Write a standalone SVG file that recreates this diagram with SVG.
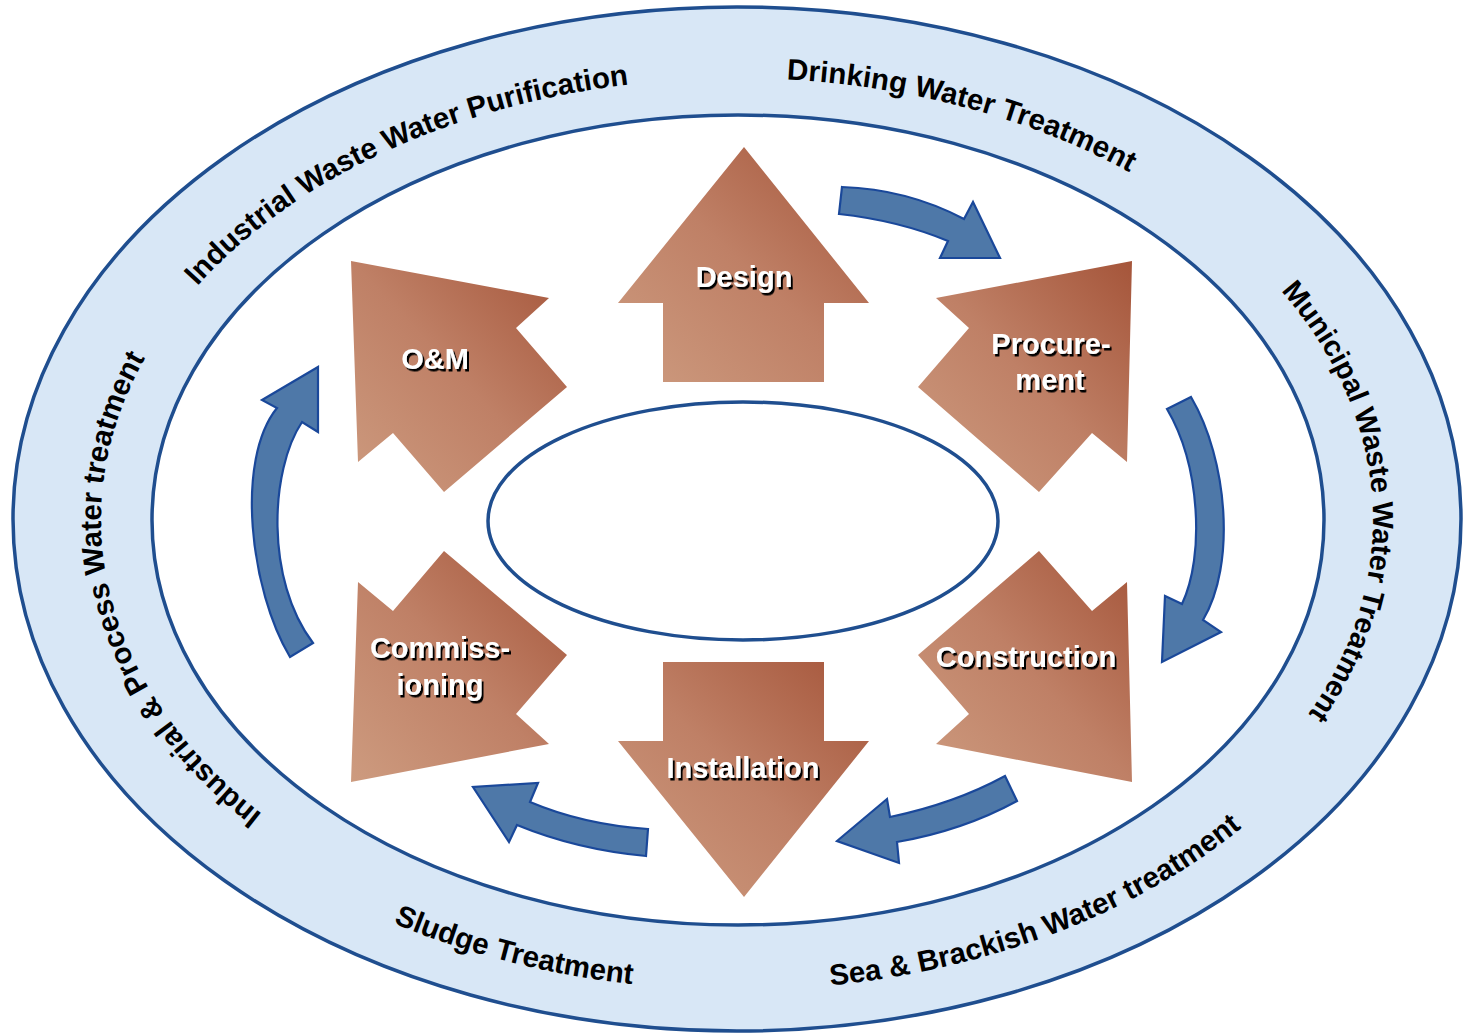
<svg xmlns="http://www.w3.org/2000/svg" width="1467" height="1034" viewBox="0 0 1467 1034">
<style>
.ring{fill:#D8E7F6;stroke:#1F4E8F;stroke-width:3.5}
.white{fill:#FFFFFF;stroke:#1F4E8F;stroke-width:3.5}
.brown{fill:url(#brownGrad)}
.blue{fill:#4E78A8;stroke:#1A489A;stroke-width:2.2;stroke-linejoin:miter}
.lbl{font-family:"Liberation Sans",Arial,sans-serif;font-weight:bold;font-size:29px;fill:#FFFFFF;text-anchor:middle;filter:url(#shadow)}
.ringtxt{font-family:"Liberation Sans",Arial,sans-serif;font-weight:bold;font-size:29.5px;fill:#000000}
</style>
<defs>
<linearGradient id="brownGrad" x1="0" y1="1" x2="1" y2="0">
<stop offset="0" stop-color="#CD9B7F"/>
<stop offset="0.5" stop-color="#BF8066"/>
<stop offset="1" stop-color="#A5553A"/>
</linearGradient>
<filter id="shadow" x="-10%" y="-20%" width="130%" height="160%">
<feDropShadow dx="2" dy="2.5" stdDeviation="0.6" flood-color="#000000" flood-opacity="1"/>
</filter>
<path id="ringCW" d="M 737,962 A 636 442 0 0 1 101,520 A 636 442 0 0 1 737,78 A 636 442 0 0 1 1373,520 A 636 442 0 0 1 737,962"/>
<path id="ringCCW" d="M 69,520 A 668 470 0 0 0 737,990 A 668 470 0 0 0 1405,520"/>
</defs>

<g id="ring">
<ellipse class="ring" cx="737" cy="519" rx="724" ry="512"/>
<ellipse class="white" cx="738" cy="520" rx="586" ry="405"/>
<ellipse id="center" class="white" cx="743" cy="521" rx="255" ry="119"/>
</g>

<g id="ring-labels">
<text id="lbl-industrial-waste" class="ringtxt"><textPath href="#ringCW" startOffset="39.7%" text-anchor="middle">Industrial Waste Water Purification</textPath></text>
<text id="lbl-drinking" class="ringtxt"><textPath href="#ringCW" startOffset="56.7%" text-anchor="middle">Drinking Water Treatment</textPath></text>
<text id="lbl-municipal" class="ringtxt" style="font-size:29px"><textPath href="#ringCW" startOffset="74.35%" text-anchor="middle">Municipal Waste Water Treatment</textPath></text>
<text id="lbl-industrial-process" class="ringtxt"><textPath href="#ringCW" startOffset="22.4%" text-anchor="middle">Industrial &amp; Process Water treatment</textPath></text>
<text id="lbl-sludge" class="ringtxt"><textPath href="#ringCCW" startOffset="37.3%" text-anchor="middle">Sludge Treatment</textPath></text>
<text id="lbl-sea" class="ringtxt"><textPath href="#ringCCW" startOffset="67.6%" text-anchor="middle">Sea &amp; Brackish Water treatment</textPath></text>
</g>

<g id="connectors">
<path id="c-design-procurement" class="blue" d="M 842,187 Q 907,189 964,219 L 973,202 L 1000,258 L 940,258 L 948,241 Q 898.5,220.5 839,214 Z"/>
<path id="c-procurement-construction" class="blue" d="M 1167,409 L 1191,397 C 1228,460 1236,565 1203,620 L 1221,632 L 1162,662 L 1165,596 L 1182,604 C 1205,555 1200,465 1167,409 Z"/>
<path id="c-construction-installation" class="blue" d="M 1005,776 L 1017,801 Q 963,830.5 897,842 L 899,863 L 837,841 L 887,799 L 890,817 Q 954.5,803.5 1005,776 Z"/>
<path id="c-installation-commissioning" class="blue" d="M 648,829 L 646,856 Q 576.5,849.5 517,825 L 509,842 L 473,787 L 538,783 L 530,802 Q 583,824.5 648,829 Z"/>
<path id="c-commissioning-om" class="blue" d="M 313,643 L 290,657 C 250,590 235,460 277,408 L 262,400 L 318,367 L 318,432 L 302,422 C 270,470 265,580 313,643 Z"/>
</g>

<g id="node-design">
<polygon class="brown" points="744,147 869,303 824,303 824,382 663,382 663,303 618,303"/>
<text class="lbl" x="744" y="287">Design</text>
</g>
<g id="node-procurement">
<polygon class="brown" points="1132,261 936,298 969,328 918,387 1039,492 1092,433 1127,462"/>
<text class="lbl" x="1051" y="354">Procure-</text>
<text class="lbl" x="1050" y="390">ment</text>
</g>
<g id="node-construction">
<polygon class="brown" points="1039,551 1092,611 1127,582 1132,782 936,744 969,714 918,655"/>
<text class="lbl" x="1026" y="667">Construction</text>
</g>
<g id="node-installation">
<polygon class="brown" points="663,662 824,662 824,741 869,741 744,897 618,741 663,741"/>
<text class="lbl" x="743" y="778">Installation</text>
</g>
<g id="node-commissioning">
<polygon class="brown" points="444,551 393,611 358,582 351,782 549,744 516,714 567,655"/>
<text class="lbl" x="440" y="658">Commiss-</text>
<text class="lbl" x="440" y="695">ioning</text>
</g>
<g id="node-om">
<polygon class="brown" points="351,261 549,298 516,328 567,387 444,492 393,433 358,462"/>
<text class="lbl" x="435" y="369">O&amp;M</text>
</g>
</svg>
